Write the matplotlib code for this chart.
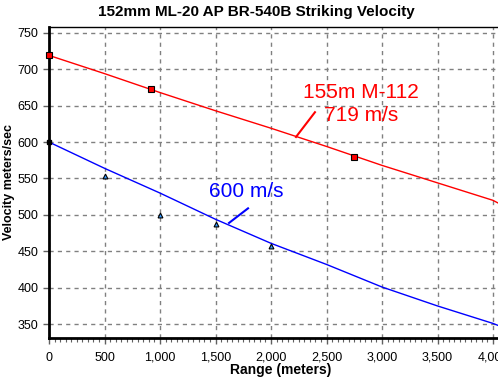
import matplotlib
matplotlib.use("Agg")
import matplotlib.pyplot as plt
from matplotlib.ticker import MultipleLocator, FuncFormatter

plt.rcParams['font.family'] = ['Liberation Sans', 'DejaVu Sans']

# Data
range_pts = [0, 500, 1000, 1500, 2000, 2500, 3000, 3500, 4000, 4050]
red_vel = [719, 694, 668, 643, 619, 594, 568, 544, 520, 516]
blue_vel = [600, 564, 530, 494, 461, 432, 401, 375, 351, 348]

red_obs_x = [0, 920, 2750]
red_obs_y = [719, 673, 580]
blue_obs_x = [500, 1000, 1500, 2000]
blue_obs_y = [553, 500, 487, 458]
black_obs_x = [0]
black_obs_y = [600]

title = "152mm ML-20 AP BR-540B Striking Velocity"
xlabel = "Range (meters)"
ylabel = "Velocity meters/sec"
red_label = "155m M-112\n719 m/s"
blue_label = "600 m/s"

fig = plt.figure(figsize=(4.98, 3.83), dpi=100)
ax = fig.add_axes([49/498, 1-338/383, 1-49/498, (338-27)/383])

ax.plot(range_pts, red_vel, color='#ff0000', lw=1.0, zorder=3)
ax.plot(range_pts, blue_vel, color='#0000ff', lw=1.0, zorder=3)
ax.plot(red_obs_x, red_obs_y, 's', ms=5, mfc='#ff0000', mec='black', mew=0.8, zorder=4, clip_on=False)
ax.plot(blue_obs_x, blue_obs_y, '^', ms=3.5, mfc='#3399ff', mec='black', mew=0.8, zorder=4)
ax.plot(black_obs_x, black_obs_y, 's', ms=3.5, mfc='black', mec='black', zorder=4, clip_on=False)

ax.set_xlim(0, 4045)
ax.set_ylim(331, 758)

ax.xaxis.set_major_locator(MultipleLocator(500))
ax.xaxis.set_minor_locator(MultipleLocator(50))
ax.yaxis.set_major_locator(MultipleLocator(50))
ax.xaxis.set_major_formatter(FuncFormatter(lambda v, p: f"{int(v):,}"))

ax.grid(True, which='major', color='#808080', linestyle=(0, (3, 3)), lw=1.0)
ax.set_axisbelow(True)

for s in ['left', 'bottom']:
    ax.spines[s].set_linewidth(2.0)
ax.spines['top'].set_linewidth(1.0)
ax.spines['right'].set_visible(False)

ax.tick_params(axis='both', which='major', labelsize=9, length=4, width=1, color='#606060')
ax.tick_params(axis='x', which='minor', length=3, width=0.8, color='#606060')
ax.tick_params(axis='x', pad=6)

fig.text(256/498, 1-12/383, title, fontsize=11, fontweight='bold', ha='center', va='center')
fig.text(281/498, 1-370/383, xlabel, fontsize=10, fontweight='bold', ha='center', va='center')
ax.set_ylabel(ylabel, fontsize=9, fontweight='bold', labelpad=2)

ax.text(2811, 652, red_label, color='#ff0000', fontsize=15, ha='center', va='center',
        multialignment='center', linespacing=1.25)
ax.plot([2225, 2396], [607, 641], color='#ff0000', lw=1.5)
ax.text(1775, 532, blue_label, color='#0000ff', fontsize=15, ha='center', va='center')
ax.plot([1622, 1793], [489, 509], color='#0000ff', lw=1.5)

fig.savefig("out.png", dpi=100)
